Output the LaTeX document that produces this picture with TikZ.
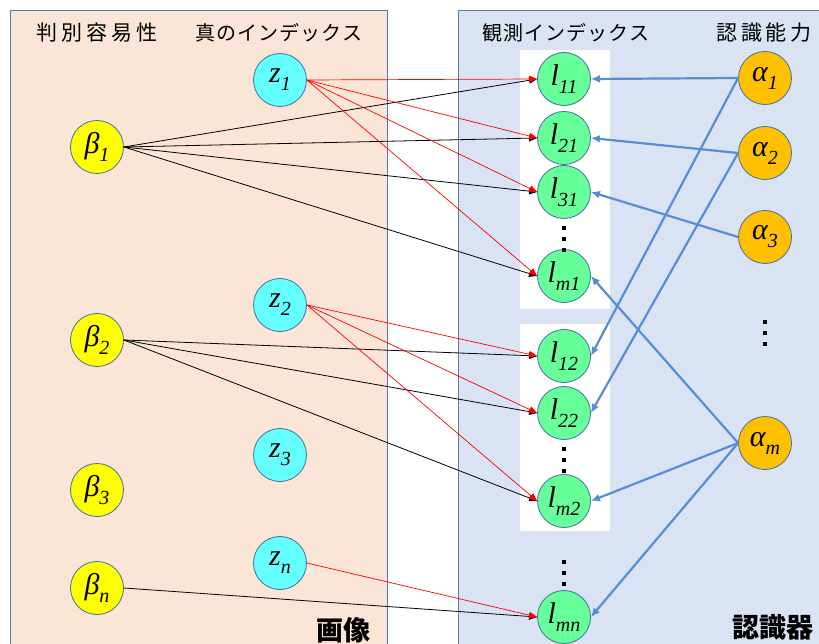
\documentclass[tikz,border=0pt]{standalone}
\usepackage{fontspec}
\setmainfont{Liberation Serif}
\newfontfamily\jp{Noto Sans CJK JP}
\usetikzlibrary{arrows.meta}
\definecolor{panelL}{RGB}{251,229,214}
\definecolor{panelR}{RGB}{218,227,243}
\definecolor{panelB}{RGB}{91,123,168}
\definecolor{cz}{RGB}{102,255,255}
\definecolor{cb}{RGB}{255,255,0}
\definecolor{cl}{RGB}{102,255,153}
\definecolor{ca}{RGB}{255,192,0}
\definecolor{nodeB}{RGB}{65,113,156}
\definecolor{bl}{RGB}{85,142,213}
\newcommand\nlab[2]{{\fontsize{30}{30}\selectfont\itshape #1}\raisebox{-8pt}{\fontsize{20}{20}\selectfont\itshape #2}}
\tikzset{
  vnode/.style={circle,draw=nodeB,line width=0.8pt,minimum size=53pt,inner sep=0pt},
  znode/.style={vnode,fill=cz},
  bnode/.style={vnode,fill=cb},
  lnode/.style={vnode,fill=cl},
  anode/.style={vnode,fill=ca},
  hdrk/.style={font=\jp\fontsize{21}{21}\selectfont\addfontfeature{LetterSpace=18},inner sep=0pt},
  hdr/.style={font=\jp\fontsize{20}{20}\selectfont\addfontfeature{LetterSpace=5},inner sep=0pt},
  bighdr/.style={font=\jp\bfseries\fontsize{27}{27}\selectfont,inner sep=0pt},
  blk/.style={draw=black,line width=0.8pt,-{Triangle[length=8pt,width=6.5pt]}},
  redl/.style={draw=red,line width=0.7pt,-{Triangle[length=8pt,width=6.5pt]}},
  bll/.style={draw=bl,line width=2.2pt,-{Latex[length=9pt,width=8pt]}},
  vdot/.style={fill=black,minimum size=4pt,inner sep=0pt}
}
\begin{document}
\begin{tikzpicture}[x=1pt,y=-1pt]
\useasboundingbox (0,0) rectangle (819,644);
\clip (0,0) rectangle (819,644);
% panels
\fill[white] (0,0) rectangle (819,644);
\draw[panelB,fill=panelL,line width=0.8pt] (10,10) rectangle (387,670);
\draw[panelB,fill=panelR,line width=0.8pt] (458,10) rectangle (840,670);
\fill[white] (520,50) rectangle (610,309);
\fill[white] (520,324) rectangle (610,531);
% headers
\node[hdrk] (h1) at (97,33) {判別容易性};
\node[hdr] (h2) at (279,33) {真のインデックス};
\node[hdr] (h3) at (566,33) {観測インデックス};
\node[hdrk] (h4) at (764,33) {認識能力};
\node[bighdr] (h5) at (343,630) {画像};
\node[bighdr] (h6) at (773,627) {認識器};
% nodes
\node[bnode] (b1) at (97,147) {\nlab{β}{1}};
\node[bnode] (b2) at (97,340) {\nlab{β}{2}};
\node[bnode] (b3) at (97,490) {\nlab{β}{3}};
\node[bnode] (bn) at (97,588) {\nlab{β}{n}};
\node[znode] (z1) at (280,80) {\nlab{z}{1}};
\node[znode] (z2) at (280,305) {\nlab{z}{2}};
\node[znode] (z3) at (280,455) {\nlab{z}{3}};
\node[znode] (zn) at (280,563) {\nlab{z}{n}};
\node[lnode] (l11) at (564,79) {\nlab{l}{11}};
\node[lnode] (l21) at (564,138) {\nlab{l}{21}};
\node[lnode] (l31) at (564,192) {\nlab{l}{31}};
\node[lnode] (lm1) at (564,276) {\nlab{l}{m1}};
\node[lnode] (l12) at (564,356) {\nlab{l}{12}};
\node[lnode] (l22) at (564,413) {\nlab{l}{22}};
\node[lnode] (lm2) at (564,501) {\nlab{l}{m2}};
\node[lnode] (lmn) at (564,617) {\nlab{l}{mn}};
\node[anode] (a1) at (765,78) {\nlab{α}{1}};
\node[anode] (a2) at (765,153) {\nlab{α}{2}};
\node[anode] (a3) at (765,237) {\nlab{α}{3}};
\node[anode] (am) at (765,443) {\nlab{α}{m}};
% dots
\foreach \y [count=\i] in {228,239,250} {\node[vdot] (da\i) at (564,\y) {};}
\foreach \y [count=\i] in {449,460,471} {\node[vdot] (db\i) at (564,\y) {};}
\foreach \y [count=\i] in {562,573,584} {\node[vdot] (dc\i) at (564,\y) {};}
\foreach \y [count=\i] in {322,333,344} {\node[vdot] (dd\i) at (765,\y) {};}
% black edges
\foreach \t in {l11,l21,l31,lm1} {\draw[blk] (b1.east) -- (\t.west);}
\foreach \t in {l12,l22,lm2} {\draw[blk] (b2.east) -- (\t.west);}
\draw[blk] (bn.east) -- (lmn.west);
% red edges
\foreach \t in {l11,l21,l31,lm1} {\draw[redl] (z1.east) -- (\t.west);}
\foreach \t in {l12,l22,lm2} {\draw[redl] (z2.east) -- (\t.west);}
\draw[redl] (zn.east) -- (lmn.west);
% blue edges
\draw[bll] (a1.west) -- (l11.east);
\draw[bll] (a1.west) -- (l12.east);
\draw[bll] (a2.west) -- (l21.east);
\draw[bll] (a2.west) -- (l22.east);
\draw[bll] (a3.west) -- (l31.east);
\draw[bll] (am.west) -- (lm1.east);
\draw[bll] (am.west) -- (lm2.east);
\draw[bll] (am.west) -- (lmn.east);
\end{tikzpicture}
\end{document}
